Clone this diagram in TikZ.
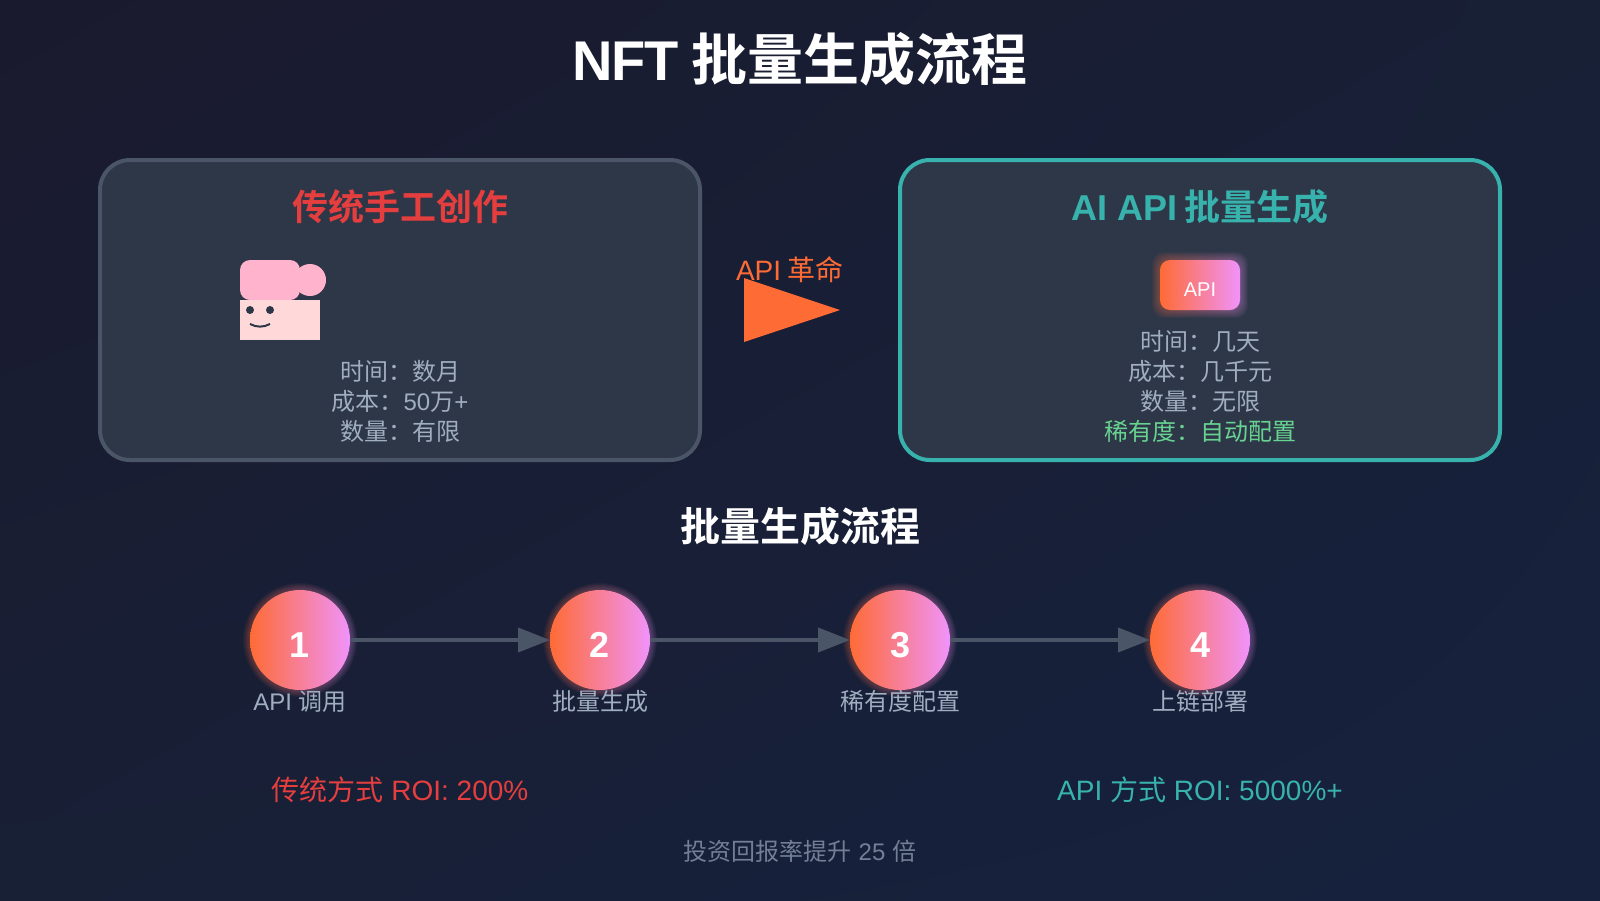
\documentclass[tikz,border=0pt]{standalone}
\usepackage{fontspec}
\usetikzlibrary{arrows.meta,shapes.geometric,shadings}
\setmainfont{Liberation Sans}
\newfontfamily\cjk{Noto Sans CJK SC}[BoldFont={Noto Sans CJK SC Bold}]
\newcommand{\C}[1]{{\cjk #1}}
\newcommand{\fs}[1]{\fontsize{#1pt}{#1pt}\selectfont}
\definecolor{bgA}{HTML}{1A1A2E}
\definecolor{bgB}{HTML}{16213E}
\definecolor{bgM}{HTML}{182036}
\definecolor{panel}{HTML}{2D3748}
\definecolor{edgeg}{HTML}{4A5568}
\definecolor{teal}{HTML}{38B2AC}
\definecolor{redt}{HTML}{E53E3E}
\definecolor{greyt}{HTML}{A0AEC0}
\definecolor{footc}{HTML}{718096}
\definecolor{greent}{HTML}{68D391}
\definecolor{orangeg}{HTML}{FF6B35}
\definecolor{pinkg}{HTML}{F093FB}
\definecolor{hairc}{HTML}{FFB3CC}
\definecolor{facec}{HTML}{FFD9D9}
\tikzset{
  txt/.style={inner sep=0pt,outer sep=0pt,anchor=base,align=center},
  panelbox/.style={draw,line width=4pt,fill=panel,rounded corners=30pt,minimum width=600pt,minimum height=300pt,inner sep=0pt},
  grad/.style={left color=orangeg,right color=pinkg},
  stepc/.style={circle,grad,minimum size=100pt,inner sep=0pt,outer sep=0pt},
  link/.style={line width=4pt,draw=edgeg,-{Triangle[length=32pt,width=24pt,fill=edgeg]}},
  body/.style={txt,font=\fs{24},text=greyt},
  lab/.style={txt,font=\fs{24},text=greyt},
  num/.style={txt,font=\fs{36}\bfseries,text=white},
}
\begin{document}
\begin{tikzpicture}[x=1pt,y=-1pt]
\useasboundingbox (0,0) rectangle (1600,900);
\shade[upper left=bgA,upper right=bgM,lower left=bgM,lower right=bgB] (0,0) rectangle (1600,900);
\node[txt,font=\fs{56}\bfseries,text=white] (title) at (800,80) {N\kern-1.5pt F\kern-1.5pt T\kern-3pt{} \C{批量生成流程}};
% panels
\node[panelbox,draw=edgeg] (left) at (400,310) {};
\node[panelbox,draw=teal] (right) at (1200,310) {};
\node[txt,font=\fs{36}\bfseries,text=redt] (lefth) at (400,220) {\C{传统手工创作}};
\node[txt,font=\fs{36}\bfseries,text=teal] (righth) at (1200,220) {AI API\kern-3pt{} \C{批量生成}};
% character
\fill[hairc] (310,280) circle (16);
\fill[hairc,rounded corners=10pt] (240,260) rectangle (300,300);
\fill[facec] (240,300) rectangle (320,340);
\fill[panel] (250,310) circle (4) (270,310) circle (4);
\draw[panel,line width=2pt] (250,324) .. controls (256.5,327.5) and (263.5,327.5) .. (270,324);
\node[body] (l1) at (400,380) {\C{时间：数月}};
\node[body] (l2) at (400,410) {\C{成本：}50\C{万}+};
\node[body] (l3) at (400,440) {\C{数量：有限}};
% API badge
\foreach \i in {1,...,8}{\shade[grad,fill opacity=0.05,rounded corners=12pt] (1160-\i,260-\i) rectangle (1240+\i,310+\i);}
\node[rounded corners=10pt,grad,minimum width=80pt,minimum height=50pt,inner sep=0pt] (apibox) at (1200,285) {};
\node[txt,font=\fs{20},text=white] (apit) at (1200,296) {API};
\node[body] (r1) at (1200,350) {\C{时间：几天}};
\node[body] (r2) at (1200,380) {\C{成本：几千元}};
\node[body] (r3) at (1200,410) {\C{数量：无限}};
\node[body,text=greent] (r4) at (1200,440) {\C{稀有度：自动配置}};
% middle
\fill[orangeg] (744,278) -- (840,310) -- (744,342) -- cycle;
\node[txt,font=\fs{28},text=orangeg] (rev) at (790,280) {API\kern-1pt{} \C{革命}};
% process
\node[txt,font=\fs{40}\bfseries,text=white] (sect) at (800,541) {\C{批量生成流程}};
\foreach \x in {300,600,900,1200}{\foreach \i in {1,...,7}{\shade[grad,fill opacity=0.05] (\x,640) circle (50+\i);}}
\node[stepc] (s1) at (300,640) {};
\node[stepc] (s2) at (600,640) {};
\node[stepc] (s3) at (900,640) {};
\node[stepc] (s4) at (1200,640) {};
\draw[link] (s1) -- (s2);
\draw[link] (s2) -- (s3);
\draw[link] (s3) -- (s4);
\node[num] at (300,657) {1};
\node[num] at (600,657) {2};
\node[num] at (900,657) {3};
\node[num] at (1200,657) {4};
\node[lab] (t1) at (300,710) {API \C{调用}};
\node[lab] (t2) at (600,710) {\C{批量生成}};
\node[lab] (t3) at (900,710) {\C{稀有度配置}};
\node[lab] (t4) at (1200,710) {\C{上链部署}};
% roi
\node[txt,font=\fs{28},text=redt] (roiA) at (400,800) {\C{传统方式} ROI: 200\%};
\node[txt,font=\fs{28},text=teal] (roiB) at (1200,800) {API \C{方式} ROI: 5000\%+};
\node[txt,font=\fs{24},text=footc] (foot) at (800,860) {\C{投资回报率提升} 25 \C{倍}};
\end{tikzpicture}
\end{document}
